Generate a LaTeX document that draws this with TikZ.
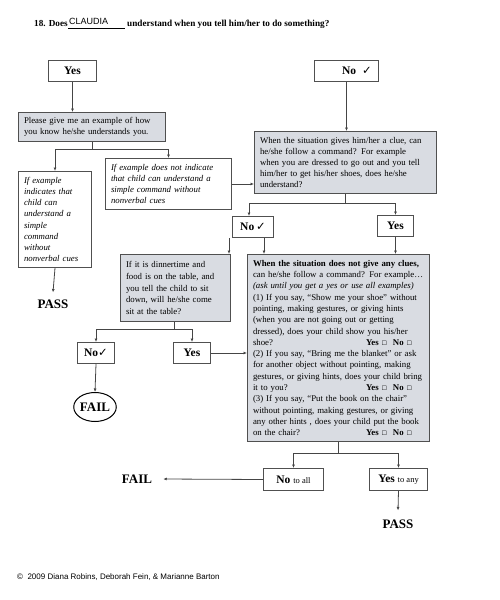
\documentclass[tikz,border=0pt]{standalone}
\usepackage{fontspec}
\setmainfont{Liberation Serif}
\newfontfamily\dejavu{DejaVu Sans}
\newfontfamily\arial{Liberation Sans}
\usepackage{xcolor}
\usetikzlibrary{arrows.meta,shapes.geometric}

\definecolor{grisc}{HTML}{D9DCE2}
\definecolor{bordc}{HTML}{505050}
\definecolor{traitc}{HTML}{454545}
\newcommand{\coche}{{\dejavu ✓}}
\newcommand{\caseb}{{\dejavu\fontsize{6}{6}\selectfont ☐}}
\newcommand{\ouinon}{\hskip 0pt plus 1fill\textbf{Yes} \caseb\ \ \textbf{No} \caseb\kern 12pt}

\begin{document}
\begin{tikzpicture}[x=1pt,y=-1pt,
    trait/.style={draw=traitc, line width=0.8pt},
    fleche/.style={trait, -{Latex[length=3.5pt,width=3pt]}},
    boite/.style={draw=bordc, line width=1pt, anchor=north west, inner xsep=5.5pt, inner ysep=0pt,
        align=left, font=\fontsize{8.8}{11.2}\selectfont},
    grise/.style={boite, fill=grisc},
    rep/.style={draw=bordc, line width=1pt, anchor=north west, inner sep=0pt,
        font=\fontsize{11.5}{12}\selectfont},
    verdict/.style={inner sep=0pt, font=\fontsize{13}{13}\selectfont\bfseries}]
    \useasboundingbox (0,0) rectangle (500,600);
        % Titre
        \node[anchor=base west, inner sep=0pt, font=\fontsize{9.2}{11}\selectfont\bfseries] (t1) at (34,26) {18. Does};
        \node[anchor=base west, inner sep=0pt, font=\arial\fontsize{9}{10}\selectfont] (prenom) at (69,24) {CLAUDIA};
        \draw[black, line width=0.6pt] (68,28) -- (125,28);
        \node[anchor=base west, inner sep=0pt, font=\fontsize{9.2}{11}\selectfont\bfseries] (t2) at (127,26) {understand when you tell him/her to do something?};
        % Premier niveau
        \node[rep, minimum width=48pt, minimum height=21pt] (oui1) at (48,60) {\textbf{Yes}};
        \node[rep, minimum width=64pt, minimum height=21pt] (non1) at (314,60) {\hspace{21pt}\textbf{No}\hspace{6pt}\coche};
        \node[grise, text width=136pt, minimum height=29pt] (please) at (18,112)
            {Please give me an example of how\\you know he/she understands you.};
        \node[boite, text width=62pt, minimum height=96pt, font=\fontsize{8.8}{11.2}\selectfont\itshape] (siex) at (18,171)
            {If example\\indicates that\\child can\\understand a\\simple\\command\\without\\nonverbal cues};
        \node[boite, text width=115pt, minimum height=51pt, font=\fontsize{8.8}{11.2}\selectfont\itshape] (sinon) at (105,158)
            {If example does not indicate\\that child can understand a\\simple command without\\nonverbal cues};
        \node[grise, text width=171pt, minimum height=62pt] (indice) at (254,131)
            {When the situation gives him/her a clue, can\\he/she follow a command? For example\\when you are dressed to go out and you tell\\him/her to get his/her shoes, does he/she\\understand?};
        % Second niveau
        \node[rep, minimum width=41pt, minimum height=21pt] (non2) at (232,216) {\textbf{No}\,\coche};
        \node[rep, minimum width=36pt, minimum height=21pt] (oui2) at (377,215) {\textbf{Yes}};
        \node[grise, text width=99pt, minimum height=67pt, font=\fontsize{8.8}{11.6}\selectfont] (diner) at (120,254)
            {If it is dinnertime and\\food is on the table, and\\you tell the child to sit\\down, will he/she come\\sit at the table?};
        \node[grise, text width=171pt, minimum height=187pt, font=\fontsize{8.8}{11.3}\selectfont] (indices) at (247,254)
            {\textbf{When the situation does not give any clues,}\\can he/she follow a command? For example\ldots\\\textit{(ask until you get a yes or use all examples)}\\(1) If you say, ``Show me your shoe'' without\\pointing, making gestures, or giving hints\\(when you are not going out or getting\\dressed), does your child show you his/her\\shoe?\ouinon\\(2) If you say, ``Bring me the blanket'' or ask\\for another object without pointing, making\\gestures, or giving hints, does your child bring\\it to you?\ouinon\\(3) If you say, ``Put the book on the chair''\\without pointing, making gestures, or giving\\any other hints , does your child put the book\\on the chair?\ouinon};
        \node[rep, minimum width=37pt, minimum height=21pt] (non3) at (77,342) {\textbf{No}\coche};
        \node[rep, minimum width=37pt, minimum height=21pt] (oui3) at (173,342) {\textbf{Yes}};
        \node[rep, minimum width=60pt, minimum height=22pt] (nontous) at (263,468) {\textbf{No} {\fontsize{8.5}{9}\selectfont to all}};
        \node[rep, minimum width=58pt, minimum height=22pt] (ouiun) at (369,468) {\textbf{Yes} {\fontsize{8.5}{9}\selectfont to any}};
        % Verdicts
        \node[verdict] (reussi1) at (53,304) {PASS};
        \node[verdict, draw=black, line width=1pt, ellipse, minimum width=40pt, minimum height=29pt, inner sep=0pt] (echec1) at (95,407) {FAIL};
        \node[verdict] (echec2) at (137,479) {FAIL};
        \node[verdict] (reussi2) at (398,524) {PASS};
        % Fleches
        \coordinate (b1) at (92,149);
        \coordinate (b2) at (345,203);
        \coordinate (b3) at (174,329);
        \coordinate (b4) at (338,453);
        \coordinate (d1) at ([xshift=-2pt]diner.north east);
        \coordinate (d2) at ([xshift=17pt]indices.north west);
        \draw[fleche] (oui1.south) -- (oui1.south |- please.north);
        \draw[trait] (b1 |- please.south) -- (b1);
        \draw[fleche] (b1) -| (siex.north);
        \draw[fleche] (b1) -| (sinon.north);
        \draw[fleche] (non1.south) -- (non1.south |- indice.north);
        \draw[fleche] (sinon.east) -- (sinon.east -| indice.west);
        \draw[trait] (b2 |- indice.south) -- (b2);
        \draw[fleche] (b2) -| ([xshift=-4pt]non2.north);
        \draw[fleche] (b2) -| (oui2.north);
        \draw[fleche] (d1 |- non2.south) -- (d1);
        \draw[fleche] (d2 |- non2.south) -- (d2);
        \draw[fleche] (oui2.south) -- (oui2.south |- indices.north);
        \draw[trait] (b3 |- diner.south) -- (b3);
        \draw[fleche] (b3) -| (non3.north);
        \draw[fleche] (b3) -| (oui3.north);
        \draw[fleche] (oui3.east) -- (oui3.east -| indices.west);
        \draw[fleche] (non3.south) -- (echec1.north);
        \draw[fleche] (siex.south) -- ([yshift=7pt]reussi1.north);
        \draw[trait] (b4 |- indices.south) -- (b4);
        \draw[fleche] (b4) -| (nontous.north);
        \draw[fleche] (b4) -| (ouiun.north);
        \draw[fleche] (nontous.west) -- ([xshift=11pt]echec2.east);
        \draw[fleche] (ouiun.south) -- ([yshift=9pt]reussi2.north);
        % Copyright
        \node[anchor=base west, inner sep=0pt, font=\arial\fontsize{8}{9}\selectfont] (droits) at (17,579)
            {©\ \ 2009 Diana Robins, Deborah Fein, \& Marianne Barton};
\end{tikzpicture}
\end{document}
